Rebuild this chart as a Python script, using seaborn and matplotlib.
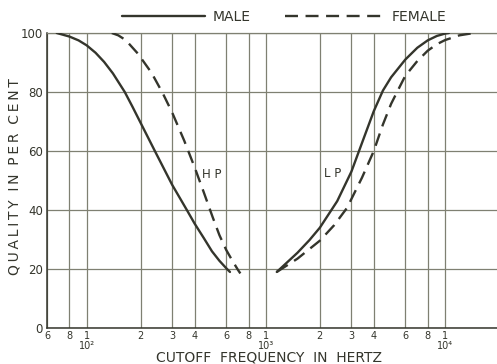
import matplotlib
matplotlib.use("Agg")
import matplotlib.pyplot as plt
import seaborn as sns
import pandas as pd

# Quality vs. cutoff frequency for high-pass (HP) and low-pass (LP) filtered speech
hp_male_freq = [68, 80, 90, 100, 112, 125, 140, 163, 180, 200, 240, 300, 362, 400, 450, 500, 550, 600, 630]
hp_male_q = [100, 98.8, 97.5, 95.8, 93.3, 90.2, 86.3, 80, 75, 69.5, 60, 48.5, 40, 35.4, 30.5, 26, 22.8, 20.3, 19]

hp_female_freq = [138, 150, 165, 193, 230, 266, 300, 350, 400, 450, 505, 550, 600, 650, 700, 720]
hp_female_q = [100, 99.2, 97.6, 93, 86.5, 79.5, 73, 63.5, 54.5, 46, 37.5, 31.5, 26.5, 22.8, 19.6, 18.5]

lp_male_freq = [1150, 1300, 1500, 1750, 2000, 2500, 3000, 3500, 4000, 4500, 5000, 6000, 7000, 8000, 9000, 10000, 10500]
lp_male_q = [19, 22, 25.5, 29.8, 34, 43, 53, 64, 73.5, 80.5, 85, 91, 95, 97.5, 99, 99.8, 100]

lp_female_freq = [1150, 1500, 2000, 2400, 2835, 3440, 4000, 4500, 5000, 5500, 6000, 7000, 8000, 9000, 10000, 12000, 14500]
lp_female_q = [19, 23.5, 29.6, 34.8, 40.7, 51, 60, 69, 76, 81, 85.5, 90.5, 94, 96.2, 97.6, 99.2, 100]

x_ticks = [60, 80, 100, 200, 300, 400, 600, 800, 1000, 2000, 3000, 4000, 6000, 8000, 10000, 20000]
x_tick_labels = ["6", "8", "1\n10²", "2", "3", "4", "6", "8", "1\n10³",
                 "2", "3", "4", "6", "8", "1\n10⁴", "2"]
y_ticks = [0, 20, 40, 60, 80, 100]

sns.set_style("white")
plt.rcParams["font.family"] = ["DejaVu Sans"]

ink = "#34352c"
grid_col = "#7f8072"

fig = plt.figure(figsize=(4.97, 3.64), dpi=100)
ax = fig.add_axes([47 / 497, 36 / 364, 452 / 497, 295 / 364])

dash = (0, (5.5, 3.2))
curves = [
    (hp_male_freq, hp_male_q, "-", "MALE"),
    (hp_female_freq, hp_female_q, dash, "FEMALE"),
    (lp_male_freq, lp_male_q, "-", None),
    (lp_female_freq, lp_female_q, dash, None),
]
handles = {}
for fx, qy, ls, lab in curves:
    df = pd.DataFrame({"freq": fx, "quality": qy})
    sns.lineplot(data=df, x="freq", y="quality", ax=ax, color=ink, linewidth=1.7,
                 linestyle=ls, estimator=None, sort=False, legend=False,
                 clip_on=True, zorder=3)
    if lab:
        handles[lab] = ax.get_lines()[-1]

ax.set_xscale("log")
ax.set_xlim(60, 20000)
ax.set_ylim(0, 100)
ax.set_xticks(x_ticks)
ax.set_xticklabels(x_tick_labels, fontsize=7, color=ink, linespacing=1.0, va="top")
ax.minorticks_off()
ax.set_yticks(y_ticks)
ax.set_yticklabels([str(v) for v in y_ticks], fontsize=8.5, color=ink)
ax.tick_params(axis="x", length=0, pad=2)
ax.tick_params(axis="y", length=0, pad=3)

ax.grid(True, color=grid_col, linewidth=0.9)
for side in ["top", "right"]:
    ax.spines[side].set_color(grid_col)
    ax.spines[side].set_linewidth(0.9)
for side in ["left", "bottom"]:
    ax.spines[side].set_color(ink)
    ax.spines[side].set_linewidth(1.1)

thin = "\u2009"
ylabel = "  ".join(thin.join(word) for word in ["QUALITY", "IN", "PER", "CENT"])
ax.set_xlabel("CUTOFF  FREQUENCY  IN  HERTZ", fontsize=10, color=ink)
ax.set_ylabel(ylabel, fontsize=10, color=ink)
ax.xaxis.set_label_coords(0.491, -0.10)
ax.xaxis.label.set_va("center")
ax.yaxis.set_label_coords(-0.071, 0.515)
ax.yaxis.label.set_va("center")

ax.text(500, 52.2, "H P", fontsize=8.5, color=ink, ha="center", va="center")
ax.text(2370, 52.5, "L P", fontsize=8.5, color=ink, ha="center", va="center")

# two separate key entries above the plot, each with its own sample length
leg_kw = dict(loc="center left", frameon=False, fontsize=10, borderpad=0,
              borderaxespad=0, handletextpad=0.5, labelcolor=ink)
leg_male = ax.legend([handles["MALE"]], ["MALE"], handlelength=6.0,
                     bbox_to_anchor=(0.166, 1.054), **leg_kw)
ax.add_artist(leg_male)
ax.legend([handles["FEMALE"]], ["FEMALE"], handlelength=7.2,
          bbox_to_anchor=(0.526, 1.054), **leg_kw)

fig.savefig("out.png", dpi=100, facecolor="white")
